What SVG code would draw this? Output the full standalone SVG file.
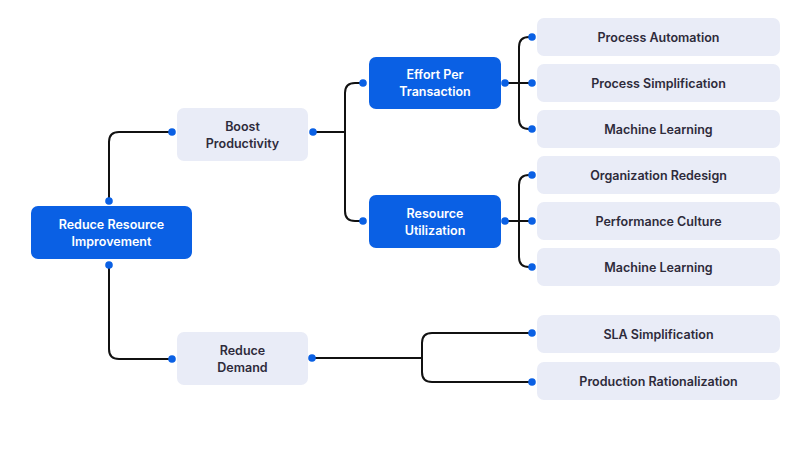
<svg xmlns="http://www.w3.org/2000/svg" width="808" height="451" viewBox="0 0 808 451">
<style>
.blue{fill:#0A60E4}
.light{fill:#E9ECF7}
.tw{font-family:Inter,"Liberation Sans",sans-serif;font-size:12.5px;font-weight:600;fill:#FFFFFF;text-anchor:middle}
.td{font-family:Inter,"Liberation Sans",sans-serif;font-size:12.5px;font-weight:600;fill:#2E2B3B;text-anchor:middle}
.ln{fill:none;stroke:#111111;stroke-width:2}
.dot{fill:#0A60E4}
</style>
<rect width="808" height="451" fill="#FFFFFF"/>
<g id="connectors">
<path class="ln" d="M109,201 V142 Q109,132 119,132 H172"/>
<path class="ln" d="M109,265 V349 Q109,359 119,359 H172"/>
<path class="ln" d="M313,132 H345"/>
<path class="ln" d="M363,83 H355 Q345,83 345,93 V211 Q345,221 355,221 H363"/>
<path class="ln" d="M505,83 H532"/>
<path class="ln" d="M532,37 H529 Q519,37 519,47 V119 Q519,129 529,129 H532"/>
<path class="ln" d="M505,221 H532"/>
<path class="ln" d="M532,175 H529 Q519,175 519,185 V257 Q519,267 529,267 H532"/>
<path class="ln" d="M312,358 H422"/>
<path class="ln" d="M532,333 H432 Q422,333 422,343 V372 Q422,382 432,382 H532"/>
</g>
<g id="root">
<rect class="blue" x="31" y="206" width="161" height="53" rx="7"/>
<text class="tw" x="111.5" y="229">Reduce Resource</text>
<text class="tw" x="111.5" y="246">Improvement</text>
<circle class="dot" cx="109" cy="201" r="3.8"/>
<circle class="dot" cx="109" cy="265" r="3.8"/>
</g>
<g id="boost">
<rect class="light" x="177" y="108" width="131" height="53" rx="7"/>
<text class="td" x="242.5" y="131">Boost</text>
<text class="td" x="242.5" y="148">Productivity</text>
<circle class="dot" cx="172" cy="132" r="3.8"/>
<circle class="dot" cx="313" cy="132" r="3.8"/>
</g>
<g id="demand">
<rect class="light" x="177" y="332" width="131" height="53" rx="7"/>
<text class="td" x="242.5" y="355">Reduce</text>
<text class="td" x="242.5" y="372">Demand</text>
<circle class="dot" cx="172" cy="359" r="3.8"/>
<circle class="dot" cx="312" cy="358" r="3.8"/>
</g>
<g id="effort">
<rect class="blue" x="369" y="57" width="132" height="52" rx="7"/>
<text class="tw" x="435" y="79">Effort Per</text>
<text class="tw" x="435" y="96">Transaction</text>
<circle class="dot" cx="363" cy="83" r="3.8"/>
<circle class="dot" cx="505" cy="83" r="3.8"/>
</g>
<g id="utilization">
<rect class="blue" x="369" y="195" width="132" height="53" rx="7"/>
<text class="tw" x="435" y="218">Resource</text>
<text class="tw" x="435" y="235">Utilization</text>
<circle class="dot" cx="363" cy="221" r="3.8"/>
<circle class="dot" cx="505" cy="221" r="3.8"/>
</g>
<g id="leaf1">
<rect class="light" x="537" y="18" width="243" height="38" rx="7"/>
<text class="td" x="658.5" y="41.5">Process Automation</text>
<circle class="dot" cx="532" cy="37" r="3.8"/>
</g>
<g id="leaf2">
<rect class="light" x="537" y="64" width="243" height="38" rx="7"/>
<text class="td" x="658.5" y="87.5">Process Simplification</text>
<circle class="dot" cx="532" cy="83" r="3.8"/>
</g>
<g id="leaf3">
<rect class="light" x="537" y="110" width="243" height="38" rx="7"/>
<text class="td" x="658.5" y="133.5">Machine Learning</text>
<circle class="dot" cx="532" cy="129" r="3.8"/>
</g>
<g id="leaf4">
<rect class="light" x="537" y="156" width="243" height="38" rx="7"/>
<text class="td" x="658.5" y="179.5">Organization Redesign</text>
<circle class="dot" cx="532" cy="175" r="3.8"/>
</g>
<g id="leaf5">
<rect class="light" x="537" y="202" width="243" height="38" rx="7"/>
<text class="td" x="658.5" y="225.5">Performance Culture</text>
<circle class="dot" cx="532" cy="221" r="3.8"/>
</g>
<g id="leaf6">
<rect class="light" x="537" y="248" width="243" height="38" rx="7"/>
<text class="td" x="658.5" y="271.5">Machine Learning</text>
<circle class="dot" cx="532" cy="267" r="3.8"/>
</g>
<g id="leaf7">
<rect class="light" x="537" y="315" width="243" height="38" rx="7"/>
<text class="td" x="658.5" y="338.5">SLA Simplification</text>
<circle class="dot" cx="532" cy="333" r="3.8"/>
</g>
<g id="leaf8">
<rect class="light" x="537" y="362" width="243" height="38" rx="7"/>
<text class="td" x="658.5" y="385.5">Production Rationalization</text>
<circle class="dot" cx="532" cy="382" r="3.8"/>
</g>
</svg>
